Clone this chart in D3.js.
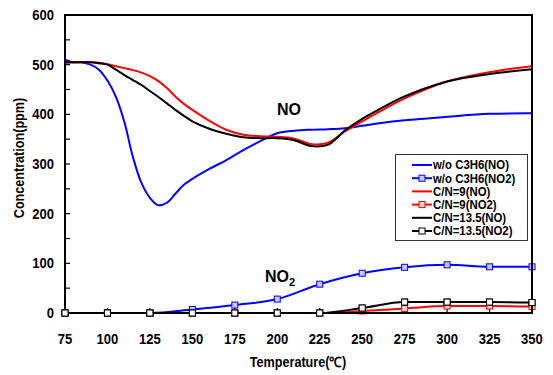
<!DOCTYPE html>
<html>
<head>
<meta charset="utf-8">
<script src="https://cdn.jsdelivr.net/npm/d3@7"></script>
<style>
  html, body { margin: 0; padding: 0; background: #fff; }
  svg { display: block; }
  text { font-family: "Liberation Sans", Arial, sans-serif; font-weight: bold; fill: #000; }
</style>
</head>
<body>
<svg id="chart" width="553" height="375"></svg>
<script>
// Temperature grid for the NO traces (°C)
const noTemps = [75, 80, 85, 90, 95, 100, 105, 110, 115, 120, 125, 130, 135, 140, 145, 150,
                 160, 170, 180, 190, 200, 210, 220, 230, 240, 250, 260, 275, 300, 325, 350];
// NO concentration (ppm)
const noWithout = [510, 505, 505, 500, 490, 468, 435, 384, 314, 262, 232, 217, 222, 240, 258, 270,
                   290, 308, 328, 346, 362, 367, 369, 370, 372, 377, 382, 388, 395, 401, 402];
const noCN9 = [504, 505, 505, 505, 504, 501, 497, 493, 489, 484, 477, 467, 453, 436, 421, 409,
               387, 369, 359, 356, 355, 351, 340, 343, 366, 386, 405, 432, 466, 485, 497];
const noCN135 = [505, 505, 505, 505, 503, 500, 490, 479, 469, 459, 447, 435, 422, 409, 397, 386,
                 371, 361, 354, 352, 352, 348, 336, 339, 368, 391, 410, 436, 466, 481, 491];

// Temperature grid for the NO2 traces (°C)
const no2Temps = [75, 100, 125, 150, 175, 200, 225, 250, 275, 300, 325, 350];
// NO2 concentration (ppm)
const no2Without = [0, 0, 0, 7, 16, 28, 58, 80, 92, 97, 93, 93];
const no2CN9 = [0, 0, 0, 0, 0, 0, 0, 4, 9, 14, 14, 13];
const no2CN135 = [0, 0, 0, 0, 0, 0, 0, 10, 22, 22, 22, 21];

// Axis ticks
const xTicks = [75, 100, 125, 150, 175, 200, 225, 250, 275, 300, 325, 350];
const yTicks = [0, 100, 200, 300, 400, 500, 600];
const yMinorTicks = [50, 150, 250, 350, 450, 550];

const legendLabels = ["w/o C3H6(NO)", "w/o C3H6(NO2)", "C/N=9(NO)", "C/N=9(NO2)", "C/N=13.5(NO)", "C/N=13.5(NO2)"];

const series = [
  { name: legendLabels[0], color: "#0000ff", xs: noTemps, ys: noWithout, marker: false },
  { name: legendLabels[1], color: "#0000ff", xs: no2Temps, ys: no2Without, marker: true, fill: "#c8c8ff" },
  { name: legendLabels[2], color: "#ff0000", xs: noTemps, ys: noCN9, marker: false },
  { name: legendLabels[3], color: "#ff0000", xs: no2Temps, ys: no2CN9, marker: true, fill: "#ffd0d0" },
  { name: legendLabels[4], color: "#000000", xs: noTemps, ys: noCN135, marker: false },
  { name: legendLabels[5], color: "#000000", xs: no2Temps, ys: no2CN135, marker: true, fill: "#ffffff" }
];

const svg = d3.select("#chart");
const plot = { left: 65, right: 532, top: 15, bottom: 313 };

const x = d3.scaleLinear().domain([75, 350]).range([plot.left, plot.right]);
const y = d3.scaleLinear().domain([0, 600]).range([plot.bottom, plot.top]);

// Narrow the glyphs horizontally a little (the labels are set in a compressed bold face)
function squeeze(sel, k) {
  sel.each(function () {
    const w = this.getComputedTextLength();
    d3.select(this).attr("textLength", w * k).attr("lengthAdjust", "spacingAndGlyphs");
  });
}

// Inward tick marks
const tickLayer = svg.append("g");
tickLayer.selectAll("line.ytick")
  .data(yTicks.concat(yMinorTicks))
  .join("line")
  .attr("x1", plot.left).attr("x2", plot.left + 5)
  .attr("y1", d => y(d)).attr("y2", d => y(d))
  .attr("stroke", "#000").attr("stroke-width", 1.2);
tickLayer.selectAll("line.xtick")
  .data(xTicks)
  .join("line")
  .attr("x1", d => x(d)).attr("x2", d => x(d))
  .attr("y1", plot.bottom).attr("y2", plot.bottom - 5)
  .attr("stroke", "#000").attr("stroke-width", 1.2);

// Smooth curves for the dense NO traces, shape-preserving ones for NO2
const smoothLine = d3.line()
  .x(d => x(d[0]))
  .y(d => y(d[1]))
  .curve(d3.curveCatmullRom.alpha(0.5));
const markerLine = d3.line()
  .x(d => x(d[0]))
  .y(d => y(d[1]))
  .curve(d3.curveMonotoneX);

const seriesLayer = svg.append("g");
series.forEach(s => {
  const pts = s.xs.map((t, i) => [t, s.ys[i]]);
  seriesLayer.append("path")
    .datum(pts)
    .attr("d", s.marker ? markerLine : smoothLine)
    .attr("fill", "none")
    .attr("stroke", s.color)
    .attr("stroke-width", 2)
    .attr("stroke-linejoin", "round");
  if (s.marker) {
    seriesLayer.selectAll(null)
      .data(pts)
      .join("rect")
      .attr("x", d => x(d[0]) - 3)
      .attr("y", d => y(d[1]) - 3)
      .attr("width", 6).attr("height", 6)
      .attr("fill", s.fill)
      .attr("stroke", s.color)
      .attr("stroke-width", 1);
  }
});

// Frame
svg.append("rect")
  .attr("x", plot.left).attr("y", plot.top)
  .attr("width", plot.right - plot.left).attr("height", plot.bottom - plot.top)
  .attr("fill", "none").attr("stroke", "#000").attr("stroke-width", 2);

// Re-draw baseline markers of the last series above the frame
svg.append("g").selectAll("rect")
  .data(no2Temps.map((t, i) => [t, no2CN135[i]]))
  .join("rect")
  .attr("x", d => x(d[0]) - 3)
  .attr("y", d => y(d[1]) - 3)
  .attr("width", 6).attr("height", 6)
  .attr("fill", "#fff").attr("stroke", "#000").attr("stroke-width", 1);

// Tick labels
svg.append("g").selectAll("text")
  .data(yTicks)
  .join("text")
  .attr("x", 54)
  .attr("y", d => y(d) + 5)
  .attr("text-anchor", "end")
  .attr("font-size", 14.5)
  .text(d => d)
  .call(squeeze, 0.9);

svg.append("g").selectAll("text")
  .data(xTicks)
  .join("text")
  .attr("x", d => x(d))
  .attr("y", 344)
  .attr("text-anchor", "middle")
  .attr("font-size", 14.5)
  .text(d => d)
  .call(squeeze, 0.9);

// Axis titles
svg.append("text")
  .attr("x", 298).attr("y", 367)
  .attr("text-anchor", "middle")
  .attr("font-size", 14)
  .text("Temperature(℃)")
  .call(squeeze, 0.9);

svg.append("text")
  .attr("transform", "translate(24,158) rotate(-90)")
  .attr("text-anchor", "middle")
  .attr("font-size", 14)
  .text("Concentration(ppm)")
  .call(squeeze, 0.9);

// In-plot annotations
svg.append("text")
  .attr("x", 289).attr("y", 115)
  .attr("text-anchor", "middle")
  .attr("font-size", 16)
  .text("NO");

const no2Label = svg.append("text")
  .attr("x", 265).attr("y", 282)
  .attr("font-size", 16);
no2Label.append("tspan").text("NO");
no2Label.append("tspan").attr("font-size", 11).attr("dy", 4).text("2");

// Legend
const legend = svg.append("g");
legend.append("rect")
  .attr("x", 395.5).attr("y", 154.5)
  .attr("width", 132).attr("height", 86)
  .attr("fill", "#fff").attr("stroke", "#333").attr("stroke-width", 1);

const rows = legend.selectAll("g.row")
  .data(series)
  .join("g")
  .attr("transform", (d, i) => `translate(0,${165 + i * 13.2})`);
rows.append("line")
  .attr("x1", 412).attr("x2", 432)
  .attr("y1", 0).attr("y2", 0)
  .attr("stroke", d => d.color).attr("stroke-width", 2);
rows.filter(d => d.marker).append("rect")
  .attr("x", 419).attr("y", -3)
  .attr("width", 6).attr("height", 6)
  .attr("fill", d => d.fill).attr("stroke", d => d.color).attr("stroke-width", 1);
rows.append("text")
  .attr("x", 433).attr("y", 4.3)
  .attr("font-size", 12)
  .text(d => d.name)
  .call(squeeze, 0.95);
</script>
</body>
</html>
